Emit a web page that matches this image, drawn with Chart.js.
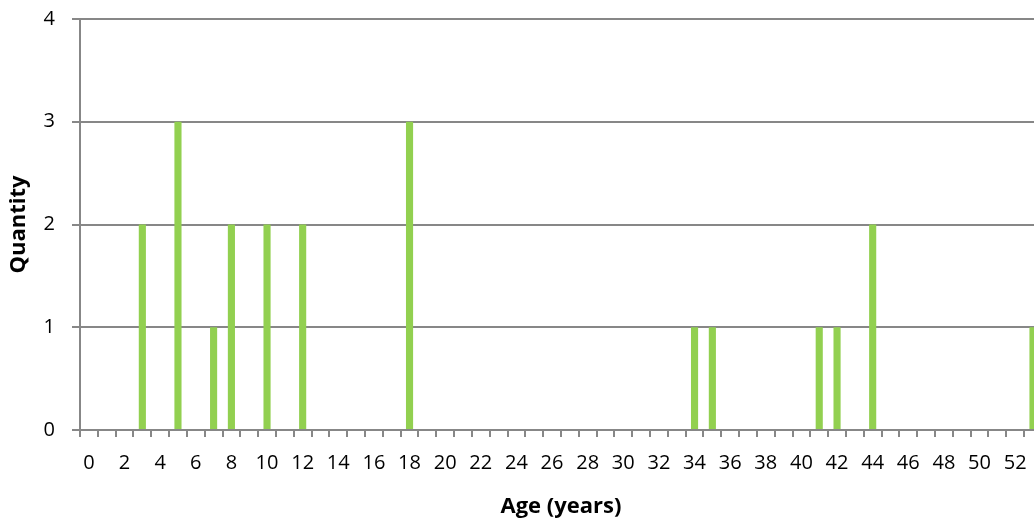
<!DOCTYPE html>
<html>
<head>
<meta charset="utf-8">
<title>Age distribution</title>
<script src="https://cdn.jsdelivr.net/npm/chart.js@4/dist/chart.umd.min.js"></script>
<style>
  html, body { margin: 0; padding: 0; background: #ffffff; overflow: hidden; }
  #wrap { width: 1047px; height: 520px; }
</style>
</head>
<body>
<div id="wrap"><canvas id="chart" width="1047" height="520"></canvas></div>
<script>
// Age in years, one category per year
const ages = [
  '0','1','2','3','4','5','6','7','8','9',
  '10','11','12','13','14','15','16','17','18','19',
  '20','21','22','23','24','25','26','27','28','29',
  '30','31','32','33','34','35','36','37','38','39',
  '40','41','42','43','44','45','46','47','48','49',
  '50','51','52','53'
];

// Number of people at each age
const quantity = [
  0,0,0,2,0,3,0,1,2,0,
  2,0,2,0,0,0,0,0,3,0,
  0,0,0,0,0,0,0,0,0,0,
  0,0,0,0,1,1,0,0,0,0,
  0,1,1,0,2,0,0,0,0,0,
  0,0,0,1
];

// Value-axis tick labels
const quantityTicks = [0, 1, 2, 3, 4];

const axisGrey = '#878787';
const fontFamily = "'Open Sans', 'DejaVu Sans', sans-serif";

new Chart(document.getElementById('chart'), {
  type: 'bar',
  data: {
    labels: ages,
    datasets: [{
      label: 'Quantity',
      data: quantity,
      backgroundColor: '#92D050',
      borderWidth: 0,
      categoryPercentage: 1.0,
      barPercentage: 0.4
    }]
  },
  options: {
    responsive: false,
    animation: false,
    devicePixelRatio: 1,
    layout: { padding: { top: 19, left: 0, right: 1, bottom: 0 } },
    plugins: {
      legend: { display: false },
      tooltip: { enabled: false }
    },
    scales: {
      x: {
        offset: true,
        border: { display: true, color: axisGrey, width: 2 },
        grid: {
          offset: true,
          drawOnChartArea: false,
          drawTicks: true,
          tickLength: 7,
          color: axisGrey,
          lineWidth: 2
        },
        ticks: {
          autoSkip: false,
          maxRotation: 0,
          minRotation: 0,
          padding: 14,
          color: '#000000',
          font: { family: fontFamily, size: 20 },
          callback: (value, index) => (index % 2 === 0 ? ages[index] : '')
        },
        title: {
          display: true,
          text: 'Age (years)',
          color: '#000000',
          font: { family: fontFamily, size: 22, weight: 'bold' },
          padding: { top: 0, bottom: 0 }
        },
        afterFit: (scale) => { scale.height = 90; }
      },
      y: {
        min: 0,
        max: 4,
        border: { display: true, color: axisGrey, width: 2 },
        grid: {
          color: axisGrey,
          lineWidth: 2,
          drawTicks: true,
          tickLength: 8
        },
        afterBuildTicks: (scale) => {
          scale.ticks = quantityTicks.map((v) => ({ value: v }));
        },
        ticks: {
          padding: 17,
          color: '#000000',
          font: { family: fontFamily, size: 20 },
          callback: (value) => String(value)
        },
        title: {
          display: true,
          text: 'Quantity',
          color: '#000000',
          font: { family: fontFamily, size: 22, weight: 'bold' },
          padding: { top: 6, bottom: 0 }
        },
        afterFit: (scale) => {
          scale.width = 80;
          scale.paddingTop = 0;
          scale.paddingBottom = 0;
        }
      }
    }
  }
});
</script>
</body>
</html>
